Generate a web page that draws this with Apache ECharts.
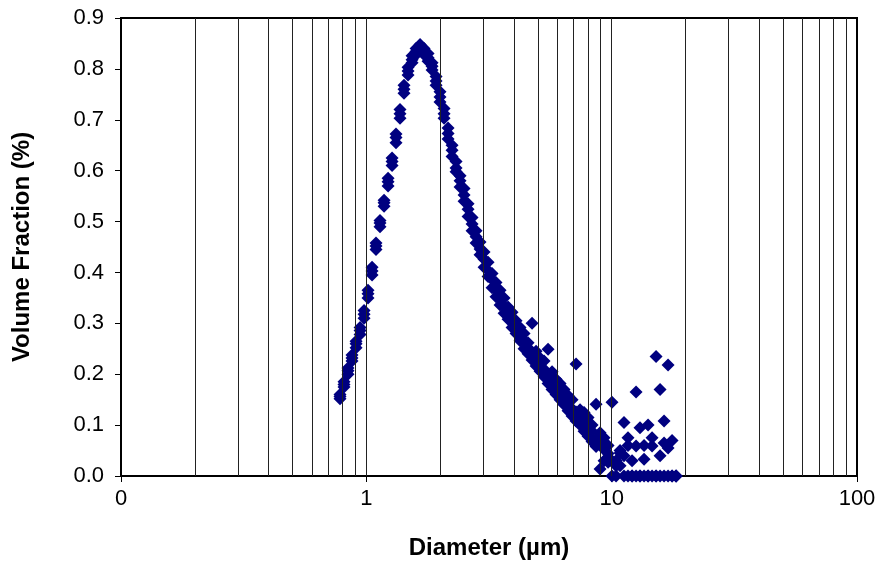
<!DOCTYPE html>
<html>
<head>
<meta charset="utf-8">
<script src="https://cdn.jsdelivr.net/npm/echarts@6/dist/echarts.min.js"></script>
<style>
html,body{margin:0;padding:0;background:#fff;}
#chart{width:879px;height:565px;}
</style>
</head>
<body>
<div id="chart"></div>
<script>
// Diameter bins (µm)
var diameter = [
  0.781,0.811,0.842,0.874,0.908,0.943,0.979,1.016,1.055,1.095,
  1.137,1.181,1.226,1.273,1.321,1.372,1.424,1.479,1.536,1.595,
  1.656,1.719,1.785,1.853,1.924,1.997,2.074,2.153,2.236,2.321,
  2.410,2.502,2.598,2.697,2.801,2.907,3.019,3.134,3.254,3.378,
  3.508,3.642,3.782,3.926,4.077,4.233,4.395,4.563,4.738,4.919,
  5.107,5.303,5.506,5.715,5.934,6.161,6.397,6.642,6.896,7.160,
  7.434,7.718,8.013,8.318,8.637,8.966,9.310,9.665,10.03,10.42,
  10.82,11.23,11.66,12.11,12.57,13.05,13.55,14.07,14.61,15.17,
  15.75,16.35,16.98,17.63,18.30
];
// Volume fraction (%) for three measurement runs
var runA = [
  .160,.185,.212,.238,.265,.292,.325,.365,.410,.458,
  .502,.542,.585,.625,.672,.720,.768,.803,.826,.840,
  .848,.840,.830,.812,.785,.755,.722,.684,.650,.618,
  .590,.565,.535,.508,.482,.460,.440,.420,.398,.380,
  .365,.350,.332,.322,.305,.292,.280,.262,.300,.245,
  .232,.226,.249,.205,.190,.182,.170,.158,.150,.220,
  .130,.125,.115,.100,.141,.085,.075,.060,.145,.030,
  .045,.105,.075,.030,.165,.095,.060,.100,.075,.235,
  .170,.108,.218,.070,.000
];
var runB = [
  .152,.175,.200,.226,.252,.278,.310,.350,.395,.445,
  .490,.530,.570,.610,.655,.703,.752,.788,.812,.828,
  .838,.828,.815,.798,.768,.735,.703,.662,.628,.598,
  .568,.540,.510,.482,.458,.435,.410,.392,.370,.352,
  .336,.320,.308,.292,.280,.266,.250,.240,.228,.216,
  .206,.195,.182,.170,.160,.150,.140,.128,.118,.108,
  .100,.088,.078,.068,.058,.014,.030,.027,.000,.020,
  .050,.040,.060,.000,.059,.000,.033,.000,.059,.000,
  .040,.000,.000,.000,.000
];
var runC = [
  .156,.180,.207,.232,.260,.286,.318,.358,.403,.452,
  .497,.537,.578,.618,.665,.712,.760,.796,.818,.834,
  .843,.835,.822,.805,.776,.745,.712,.673,.640,.605,
  .580,.552,.524,.495,.470,.446,.426,.404,.386,.366,
  .350,.334,.322,.305,.293,.276,.266,.252,.240,.232,
  .218,.210,.196,.188,.172,.166,.150,.145,.132,.126,
  .112,.106,.092,.088,.072,.068,.052,.044,.030,.000,
  .020,.000,.000,.000,.000,.000,.000,.000,.000,.000,
  .000,.065,.055,.000,.000
];
// Axis values
var xTickLabels = {'0.1':'0','1':'1','10':'10','100':'100'};
var yTicks = [0,0.1,0.2,0.3,0.4,0.5,0.6,0.7,0.8,0.9];
var xGridValues = [0.2,0.3,0.4,0.5,0.6,0.7,0.8,0.9,1,2,3,4,5,6,7,8,9,10,20,30,40,50,60,70,80,90];

function pairs(xs, ys){
  var out = [];
  for (var i = 0; i < xs.length; i++) out.push([xs[i], ys[i]]);
  return out;
}

var chart = echarts.init(document.getElementById('chart'), null, {renderer:'canvas'});
var font = '"Liberation Sans", Arial, sans-serif';
var markerStyle = {color:'#000080', opacity:1};

chart.setOption({
  animation:false,
  backgroundColor:'#fff',
  grid:{left:121,right:22,top:18,bottom:88,show:true,borderColor:'#000',borderWidth:2,backgroundColor:'transparent'},
  xAxis:{
    type:'log', logBase:10, min:0.1, max:100,
    name:'Diameter (µm)', nameLocation:'middle', nameGap:60,
    nameTextStyle:{fontFamily:font,fontSize:24,fontWeight:'bold',color:'#000'},
    axisLine:{show:true,lineStyle:{color:'#000',width:2}},
    axisTick:{show:true,length:6,inside:false,lineStyle:{color:'#000',width:1}},
    axisLabel:{fontFamily:font,fontSize:22,color:'#000',margin:12,
      formatter:function(v){ var k = String(+v.toPrecision(3)); return xTickLabels[k] !== undefined ? xTickLabels[k] : ''; }},
    splitLine:{show:false},
    minorTick:{show:false}
  },
  yAxis:{
    type:'value', min:yTicks[0], max:yTicks[yTicks.length-1], interval:0.1,
    name:'Volume Fraction (%)', nameLocation:'middle', nameGap:87, nameRotate:90,
    nameTextStyle:{fontFamily:font,fontSize:24,fontWeight:'bold',color:'#000'},
    axisLine:{show:true,lineStyle:{color:'#000',width:2}},
    axisTick:{show:true,length:6,inside:false,lineStyle:{color:'#000',width:1}},
    axisLabel:{fontFamily:font,fontSize:22,color:'#000',margin:17,
      formatter:function(v){ return v.toFixed(1); }},
    splitLine:{show:false}
  },
  series:[
    {
      type:'scatter', data:[], z:1, silent:true,
      markLine:{
        silent:true, symbol:['none','none'], animation:false,
        label:{show:false},
        lineStyle:{type:'solid',color:'#222',width:1},
        emphasis:{disabled:true},
        data:xGridValues.map(function(v){ return {xAxis:v}; })
      }
    },
    {type:'scatter', symbol:'diamond', symbolSize:13, itemStyle:markerStyle, z:3, data:pairs(diameter, runA)},
    {type:'scatter', symbol:'diamond', symbolSize:13, itemStyle:markerStyle, z:3, data:pairs(diameter, runB)},
    {type:'scatter', symbol:'diamond', symbolSize:13, itemStyle:markerStyle, z:3, data:pairs(diameter, runC)}
  ]
});
</script>
</body>
</html>
